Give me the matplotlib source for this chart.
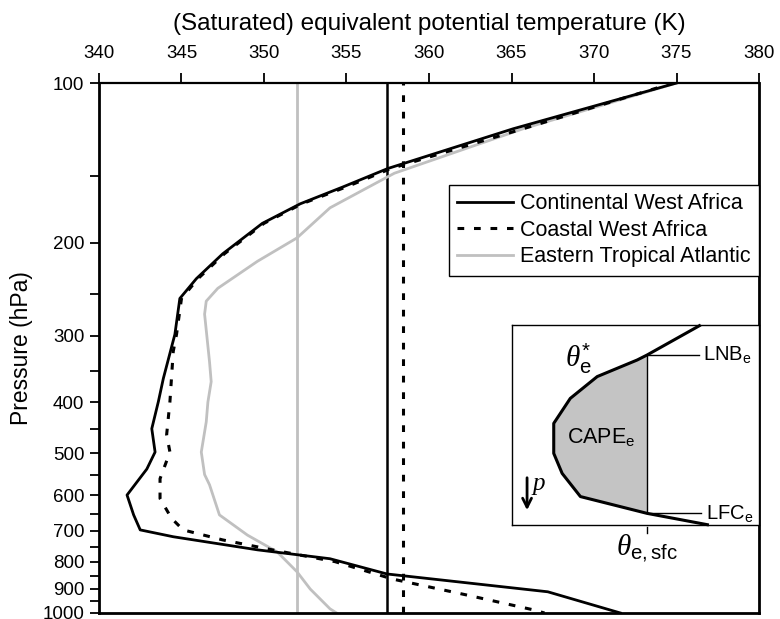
import numpy as np
import matplotlib
matplotlib.use('Agg')
import matplotlib.pyplot as plt
from matplotlib.ticker import FixedLocator, FixedFormatter, NullFormatter

plt.rcParams['font.family'] = ['Liberation Sans', 'DejaVu Sans']
plt.rcParams['mathtext.fontset'] = 'custom'
plt.rcParams['mathtext.rm'] = 'Liberation Sans'
plt.rcParams['mathtext.it'] = 'Liberation Serif:italic'

# profiles: theta_e (K) against pressure (hPa)
cont_p = [100, 122, 145, 157, 169, 184, 210, 234, 255, 298, 361, 399, 449, 497, 535, 599, 653, 697, 718, 760, 790, 844, 912, 1000]
cont_T = [375.0, 365.1, 357.5, 354.8, 352.2, 349.9, 347.5, 345.9, 344.9, 344.6, 343.9, 343.6, 343.2, 343.4, 342.9, 341.7,
          342.1, 342.5, 344.5, 349.6, 354.0, 357.45, 367.2, 371.6]

coast_p = [100, 122, 145, 157, 169, 184, 210, 234, 255, 298, 321, 399, 461, 497, 558, 608, 663, 697, 728, 760, 800, 863,
           925, 986, 1000]
coast_T = [374.8, 365.7, 357.7, 355.0, 352.3, 350.0, 347.6, 346.0, 345.0, 344.7, 344.5, 344.3, 344.1, 344.3, 343.7, 343.7,
           344.4, 345.1, 347.5, 350.5, 354.3, 357.8, 362.3, 366.3, 367.0]

atl_p = [100, 122, 148, 158, 172, 196, 217, 244, 258, 273, 336, 366, 400, 436, 497, 548, 573, 653, 713, 767, 836, 901,
         982, 1000]
atl_T = [375.0, 365.7, 357.9, 356.2, 354.0, 352.0, 349.6, 347.2, 346.5, 346.4, 346.7, 346.8, 346.6, 346.5, 346.2, 346.4,
         346.7, 347.3, 349.0, 350.8, 352.0, 352.8, 354.0, 354.4]

# surface theta_e (vertical lines)
cont_sfc = 357.45
coast_sfc = 358.4
atl_sfc = 352.0

labels = ['Continental West Africa', 'Coastal West Africa', 'Eastern Tropical Atlantic']

# schematic inset (box fractions)
ins_x = [0.764, 0.547, 0.507, 0.345, 0.236, 0.169, 0.169, 0.203, 0.277, 0.547, 0.797]
ins_y = [1.0, 0.85, 0.825, 0.742, 0.633, 0.508, 0.358, 0.258, 0.142, 0.058, 0.0]

gray = '#c0c0c0'

fig = plt.figure(figsize=(7.8, 6.19), dpi=100)
ax = fig.add_axes([0.1269, 0.0097, 0.8462, 0.8562])

ax.plot(atl_T, atl_p, color=gray, lw=2.0, label=labels[2], zorder=2)
ax.plot(coast_T, coast_p, color='black', lw=2.2, ls=(0, (2.2, 3.2)), label=labels[1], zorder=3)
ax.plot(cont_T, cont_p, color='black', lw=2.0, label=labels[0], zorder=4)
ax.axvline(atl_sfc, color=gray, lw=2.0, zorder=1)
ax.axvline(coast_sfc, color='black', lw=2.2, ls=(0, (2.2, 3.2)), zorder=1)
ax.axvline(cont_sfc, color='black', lw=1.8, zorder=1)

ax.set_xlim(340, 380)
ax.set_yscale('log')
ax.set_ylim(1000, 100)
ax.xaxis.set_major_locator(FixedLocator(np.arange(340, 381, 5)))
yt = [100, 200, 300, 400, 500, 600, 700, 800, 900, 1000]
ax.yaxis.set_major_locator(FixedLocator(yt))
ax.yaxis.set_major_formatter(FixedFormatter([str(v) for v in yt]))
ax.yaxis.set_minor_locator(FixedLocator([150, 250, 350, 450, 550, 650, 750, 850, 950]))
ax.yaxis.set_minor_formatter(NullFormatter())
ax.xaxis.tick_top()
ax.xaxis.set_label_position('top')
ax.tick_params(axis='x', which='both', direction='out', length=7, width=1.3, labelsize=13.5, pad=8)
ax.tick_params(axis='y', which='both', direction='out', length=6.5, width=1.3, labelsize=13.5, pad=4)
for s in ax.spines.values():
    s.set_linewidth(2.0)
ax.spines['top'].set_linewidth(1.6)

ax.set_xlabel('(Saturated) equivalent potential temperature (K)', fontsize=17.5, labelpad=11)
ax.set_ylabel('Pressure (hPa)', fontsize=16.5)
ax.yaxis.set_label_coords(-0.10, 0.5)

handles, labs = ax.get_legend_handles_labels()
order = [labs.index(l) for l in labels]
leg = ax.legend([handles[i] for i in order], [labs[i] for i in order], loc='upper right',
                bbox_to_anchor=(1.0, 0.808), borderaxespad=0, fontsize=15.5, frameon=True, fancybox=False,
                framealpha=1, edgecolor='black', handlelength=2.6, handletextpad=0.3, labelspacing=0.25,
                borderpad=0.4)
leg.get_frame().set_linewidth(1.0)

# inset schematic
ai = fig.add_axes([0.6564, 0.1519, 0.3167, 0.3231])
ai.set_xlim(0, 1)
ai.set_ylim(0, 1)
ai.set_xticks([])
ai.set_yticks([])
for s in ai.spines.values():
    s.set_linewidth(1.0)
ai.fill(ins_x[1:10], ins_y[1:10], color='#c4c4c4', lw=0)
ai.plot(ins_x, ins_y, color='black', lw=2.2, clip_on=False, solid_capstyle='butt')
ai.plot([ins_x[1], ins_x[9]], [ins_y[1], ins_y[9]], color='black', lw=1.0)
ai.plot([ins_x[1], 0.757], [ins_y[1], ins_y[1]], color='black', lw=1.0)
ai.plot([ins_x[9], 0.764], [ins_y[9], ins_y[9]], color='black', lw=1.0)
ai.text(0.775, ins_y[1], r'LNB$_{\mathrm{e}}$', fontsize=14.5, va='center', ha='left')
ai.text(0.785, ins_y[9], r'LFC$_{\mathrm{e}}$', fontsize=14.5, va='center', ha='left')
ai.text(0.36, 0.44, r'CAPE$_{\mathrm{e}}$', fontsize=15.5, va='center', ha='center')
ai.text(0.27, 0.83, r'$\theta^{*}_{\mathrm{e}}$', fontsize=21, va='center', ha='center')
ai.annotate('', xy=(0.061, 0.06), xytext=(0.061, 0.25),
            arrowprops=dict(arrowstyle='->', lw=2.0, color='black', mutation_scale=16))
ai.text(0.075, 0.2, r'$p$', fontsize=18, va='center', ha='left')
ai.plot([ins_x[9], ins_x[9]], [-0.01, -0.04], color='black', lw=1.0, clip_on=False)
ai.text(ins_x[9], -0.04, r'$\theta_{\mathrm{e,sfc}}$', fontsize=21, va='top', ha='center')

fig.savefig('out.png', dpi=100)
